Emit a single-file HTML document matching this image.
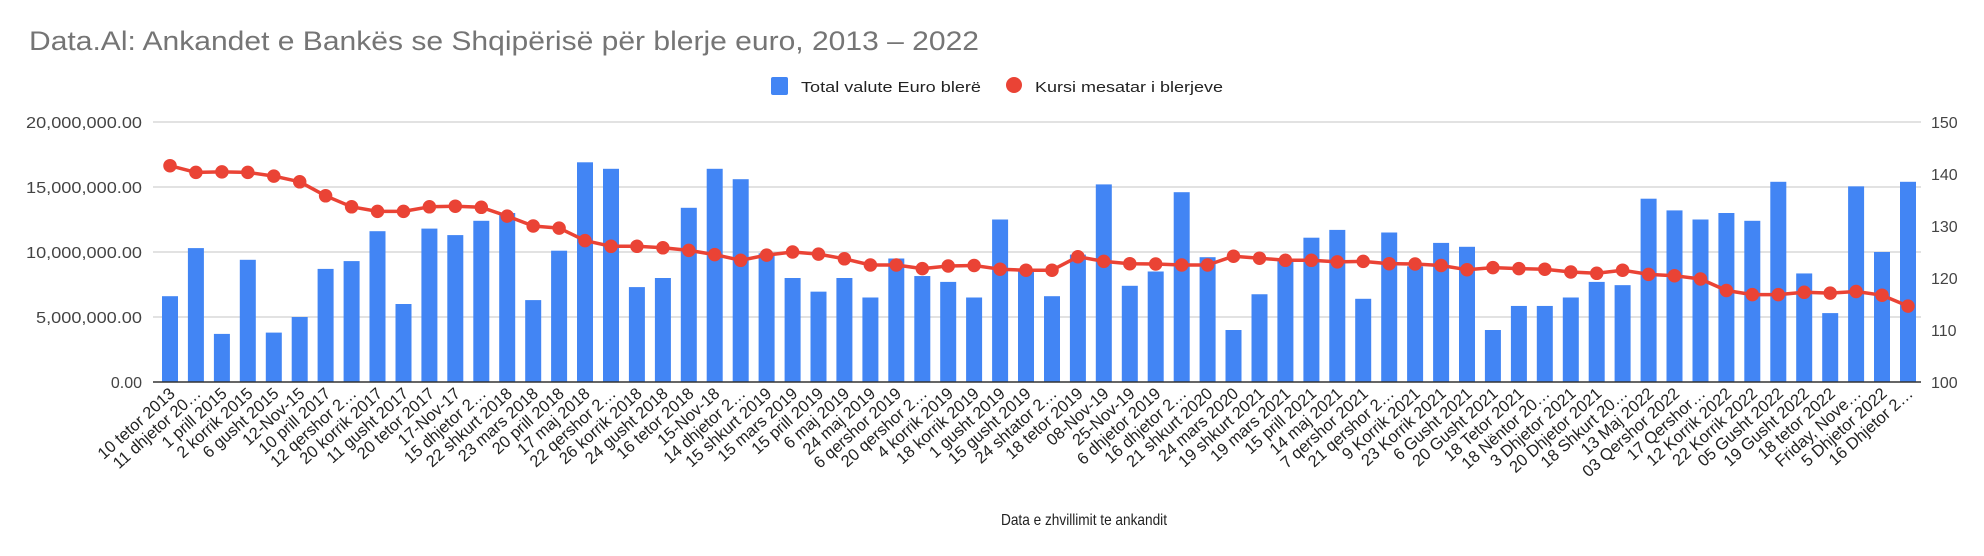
<!DOCTYPE html>
<html><head><meta charset="utf-8"><style>
html,body{margin:0;padding:0;background:#fff;}
svg{display:block;font-family:"Liberation Sans",Arial,sans-serif;}
</style></head><body>
<svg width="1984" height="556" viewBox="0 0 1984 556" xmlns="http://www.w3.org/2000/svg">
<text x="29" y="50" font-size="27" fill="#757575" textLength="950" lengthAdjust="spacingAndGlyphs">Data.Al: Ankandet e Bankës se Shqipërisë për blerje euro, 2013 – 2022</text>
<rect x="771" y="77" width="17" height="18" rx="2" fill="#4285f4"/>
<text x="801" y="92" font-size="15" fill="#222" textLength="180" lengthAdjust="spacingAndGlyphs">Total valute Euro blerë</text>
<circle cx="1014" cy="85" r="8" fill="#ea4335"/>
<text x="1035" y="92" font-size="15" fill="#222" textLength="188" lengthAdjust="spacingAndGlyphs">Kursi mesatar i blerjeve</text>
<g stroke="#d0d0d0" stroke-width="1.3">
<line x1="153" y1="122" x2="1921" y2="122"/><line x1="153" y1="187" x2="1921" y2="187"/><line x1="153" y1="252" x2="1921" y2="252"/><line x1="153" y1="317" x2="1921" y2="317"/>
</g>
<g font-size="16" fill="#444" text-anchor="end">
<text x="142" y="128" textLength="116" lengthAdjust="spacingAndGlyphs">20,000,000.00</text><text x="142" y="193" textLength="116" lengthAdjust="spacingAndGlyphs">15,000,000.00</text><text x="142" y="258" textLength="116" lengthAdjust="spacingAndGlyphs">10,000,000.00</text><text x="142" y="323" textLength="106" lengthAdjust="spacingAndGlyphs">5,000,000.00</text><text x="142" y="388">0.00</text>
</g>
<g font-size="16" fill="#444">
<text x="1931" y="128">150</text><text x="1931" y="180">140</text><text x="1931" y="232">130</text><text x="1931" y="284">120</text><text x="1931" y="336">110</text><text x="1931" y="388">100</text>
</g>
<g transform="translate(0,382) scale(1,-13)" fill="#4285f4">
<rect x="162" y="0" width="16" height="6.6"/><rect x="187.9" y="0" width="16" height="10.3"/><rect x="213.9" y="0" width="16" height="3.7"/><rect x="239.8" y="0" width="16" height="9.4"/><rect x="265.8" y="0" width="16" height="3.8"/><rect x="291.7" y="0" width="16" height="5.0"/><rect x="317.6" y="0" width="16" height="8.7"/><rect x="343.6" y="0" width="16" height="9.3"/><rect x="369.5" y="0" width="16" height="11.6"/><rect x="395.5" y="0" width="16" height="6.0"/><rect x="421.4" y="0" width="16" height="11.8"/><rect x="447.3" y="0" width="16" height="11.3"/><rect x="473.3" y="0" width="16" height="12.4"/><rect x="499.2" y="0" width="16" height="13.0"/><rect x="525.2" y="0" width="16" height="6.3"/><rect x="551.1" y="0" width="16" height="10.1"/><rect x="577" y="0" width="16" height="16.9"/><rect x="603" y="0" width="16" height="16.4"/><rect x="628.9" y="0" width="16" height="7.3"/><rect x="654.9" y="0" width="16" height="8.0"/><rect x="680.8" y="0" width="16" height="13.4"/><rect x="706.7" y="0" width="16" height="16.4"/><rect x="732.7" y="0" width="16" height="15.6"/><rect x="758.6" y="0" width="16" height="9.9"/><rect x="784.6" y="0" width="16" height="8.0"/><rect x="810.5" y="0" width="16" height="6.95"/><rect x="836.4" y="0" width="16" height="8.0"/><rect x="862.4" y="0" width="16" height="6.5"/><rect x="888.3" y="0" width="16" height="9.5"/><rect x="914.3" y="0" width="16" height="8.15"/><rect x="940.2" y="0" width="16" height="7.7"/><rect x="966.1" y="0" width="16" height="6.5"/><rect x="992.1" y="0" width="16" height="12.5"/><rect x="1018" y="0" width="16" height="8.6"/><rect x="1044" y="0" width="16" height="6.6"/><rect x="1069.9" y="0" width="16" height="9.8"/><rect x="1095.8" y="0" width="16" height="15.2"/><rect x="1121.8" y="0" width="16" height="7.4"/><rect x="1147.7" y="0" width="16" height="8.5"/><rect x="1173.7" y="0" width="16" height="14.6"/><rect x="1199.6" y="0" width="16" height="9.6"/><rect x="1225.5" y="0" width="16" height="4.0"/><rect x="1251.5" y="0" width="16" height="6.75"/><rect x="1277.4" y="0" width="16" height="9.4"/><rect x="1303.4" y="0" width="16" height="11.1"/><rect x="1329.3" y="0" width="16" height="11.7"/><rect x="1355.2" y="0" width="16" height="6.4"/><rect x="1381.2" y="0" width="16" height="11.5"/><rect x="1407.1" y="0" width="16" height="8.9"/><rect x="1433.1" y="0" width="16" height="10.7"/><rect x="1459" y="0" width="16" height="10.4"/><rect x="1484.9" y="0" width="16" height="4.0"/><rect x="1510.9" y="0" width="16" height="5.85"/><rect x="1536.8" y="0" width="16" height="5.85"/><rect x="1562.8" y="0" width="16" height="6.5"/><rect x="1588.7" y="0" width="16" height="7.7"/><rect x="1614.6" y="0" width="16" height="7.45"/><rect x="1640.6" y="0" width="16" height="14.1"/><rect x="1666.5" y="0" width="16" height="13.2"/><rect x="1692.5" y="0" width="16" height="12.5"/><rect x="1718.4" y="0" width="16" height="13.0"/><rect x="1744.3" y="0" width="16" height="12.4"/><rect x="1770.3" y="0" width="16" height="15.4"/><rect x="1796.2" y="0" width="16" height="8.35"/><rect x="1822.2" y="0" width="16" height="5.3"/><rect x="1848.1" y="0" width="16" height="15.05"/><rect x="1874" y="0" width="16" height="10.0"/><rect x="1900" y="0" width="16" height="15.4"/>
</g>
<line x1="153" y1="382" x2="1921" y2="382" stroke="#333" stroke-width="1.5"/>
<polyline fill="none" stroke="#ea4335" stroke-width="3.5" stroke-linejoin="round" points="170,165.7 195.9,172.4 221.9,171.9 247.8,172.4 273.8,176.1 299.7,181.8 325.6,195.8 351.6,206.8 377.5,211.4 403.5,211.4 429.4,206.8 455.3,206.2 481.3,207.3 507.2,216.1 533.2,226 559.1,228.1 585,240.6 611,246.3 636.9,246.3 662.9,247.8 688.8,250.4 714.7,254.6 740.7,260.3 766.6,255.1 792.6,252 818.5,254.1 844.4,258.8 870.4,265 896.3,265 922.3,268.6 948.2,266 974.1,265.5 1000.1,269.2 1026,270.2 1052,270.2 1077.9,256.7 1103.8,261.4 1129.8,263.7 1155.7,264 1181.7,265 1207.6,265 1233.5,256.2 1259.5,258.2 1285.4,260.3 1311.4,260.3 1337.3,261.9 1363.2,261.4 1389.2,263.7 1415.1,264 1441.1,265.5 1467,269.7 1492.9,267.6 1518.9,268.6 1544.8,269.2 1570.8,272 1596.7,273.3 1622.6,270.2 1648.6,274.4 1674.5,275.7 1700.5,279 1726.4,290.5 1752.3,294.6 1778.3,294.6 1804.2,292.3 1830.2,293.1 1856.1,291.5 1882,295.2 1908,306.1"/>
<path fill="none" stroke="#ea4335" stroke-width="13.5" stroke-linecap="round" d="M170 165.7h0M195.9 172.4h0M221.9 171.9h0M247.8 172.4h0M273.8 176.1h0M299.7 181.8h0M325.6 195.8h0M351.6 206.8h0M377.5 211.4h0M403.5 211.4h0M429.4 206.8h0M455.3 206.2h0M481.3 207.3h0M507.2 216.1h0M533.2 226h0M559.1 228.1h0M585 240.6h0M611 246.3h0M636.9 246.3h0M662.9 247.8h0M688.8 250.4h0M714.7 254.6h0M740.7 260.3h0M766.6 255.1h0M792.6 252h0M818.5 254.1h0M844.4 258.8h0M870.4 265h0M896.3 265h0M922.3 268.6h0M948.2 266h0M974.1 265.5h0M1000.1 269.2h0M1026 270.2h0M1052 270.2h0M1077.9 256.7h0M1103.8 261.4h0M1129.8 263.7h0M1155.7 264h0M1181.7 265h0M1207.6 265h0M1233.5 256.2h0M1259.5 258.2h0M1285.4 260.3h0M1311.4 260.3h0M1337.3 261.9h0M1363.2 261.4h0M1389.2 263.7h0M1415.1 264h0M1441.1 265.5h0M1467 269.7h0M1492.9 267.6h0M1518.9 268.6h0M1544.8 269.2h0M1570.8 272h0M1596.7 273.3h0M1622.6 270.2h0M1648.6 274.4h0M1674.5 275.7h0M1700.5 279h0M1726.4 290.5h0M1752.3 294.6h0M1778.3 294.6h0M1804.2 292.3h0M1830.2 293.1h0M1856.1 291.5h0M1882 295.2h0M1908 306.1h0"/>
<g font-size="16.5" fill="#222" text-anchor="end">
<text transform="translate(176,395) rotate(-42)">10 tetor 2013</text>
<text transform="translate(201.9,395) rotate(-42)">11 dhjetor 20…</text>
<text transform="translate(227.9,395) rotate(-42)">1 prill 2015</text>
<text transform="translate(253.8,395) rotate(-42)">2 korrik 2015</text>
<text transform="translate(279.8,395) rotate(-42)">6 gusht 2015</text>
<text transform="translate(305.7,395) rotate(-42)">12-Nov-15</text>
<text transform="translate(331.6,395) rotate(-42)">10 prill 2017</text>
<text transform="translate(357.6,395) rotate(-42)">12 qershor 2…</text>
<text transform="translate(383.5,395) rotate(-42)">20 korrik 2017</text>
<text transform="translate(409.5,395) rotate(-42)">11 gusht 2017</text>
<text transform="translate(435.4,395) rotate(-42)">20 tetor 2017</text>
<text transform="translate(461.3,395) rotate(-42)">17-Nov-17</text>
<text transform="translate(487.3,395) rotate(-42)">15 dhjetor 2…</text>
<text transform="translate(513.2,395) rotate(-42)">22 shkurt 2018</text>
<text transform="translate(539.2,395) rotate(-42)">23 mars 2018</text>
<text transform="translate(565.1,395) rotate(-42)">20 prill 2018</text>
<text transform="translate(591,395) rotate(-42)">17 maj 2018</text>
<text transform="translate(617,395) rotate(-42)">22 qershor 2…</text>
<text transform="translate(642.9,395) rotate(-42)">26 korrik 2018</text>
<text transform="translate(668.9,395) rotate(-42)">24 gusht 2018</text>
<text transform="translate(694.8,395) rotate(-42)">16 tetor 2018</text>
<text transform="translate(720.7,395) rotate(-42)">15-Nov-18</text>
<text transform="translate(746.7,395) rotate(-42)">14 dhjetor 2…</text>
<text transform="translate(772.6,395) rotate(-42)">15 shkurt 2019</text>
<text transform="translate(798.6,395) rotate(-42)">15 mars 2019</text>
<text transform="translate(824.5,395) rotate(-42)">15 prill 2019</text>
<text transform="translate(850.4,395) rotate(-42)">6 maj 2019</text>
<text transform="translate(876.4,395) rotate(-42)">24 maj 2019</text>
<text transform="translate(902.3,395) rotate(-42)">6 qershor 2019</text>
<text transform="translate(928.3,395) rotate(-42)">20 qershor 2…</text>
<text transform="translate(954.2,395) rotate(-42)">4 korrik 2019</text>
<text transform="translate(980.1,395) rotate(-42)">18 korrik 2019</text>
<text transform="translate(1006.1,395) rotate(-42)">1 gusht 2019</text>
<text transform="translate(1032,395) rotate(-42)">15 gusht 2019</text>
<text transform="translate(1058,395) rotate(-42)">24 shtator 2…</text>
<text transform="translate(1083.9,395) rotate(-42)">18 tetor 2019</text>
<text transform="translate(1109.8,395) rotate(-42)">08-Nov-19</text>
<text transform="translate(1135.8,395) rotate(-42)">25-Nov-19</text>
<text transform="translate(1161.7,395) rotate(-42)">6 dhjetor 2019</text>
<text transform="translate(1187.7,395) rotate(-42)">16 dhjetor 2…</text>
<text transform="translate(1213.6,395) rotate(-42)">21 shkurt 2020</text>
<text transform="translate(1239.5,395) rotate(-42)">24 mars 2020</text>
<text transform="translate(1265.5,395) rotate(-42)">19 shkurt 2021</text>
<text transform="translate(1291.4,395) rotate(-42)">19 mars 2021</text>
<text transform="translate(1317.4,395) rotate(-42)">15 prill 2021</text>
<text transform="translate(1343.3,395) rotate(-42)">14 maj 2021</text>
<text transform="translate(1369.2,395) rotate(-42)">7 qershor 2021</text>
<text transform="translate(1395.2,395) rotate(-42)">21 qershor 2…</text>
<text transform="translate(1421.1,395) rotate(-42)">9 Korrik 2021</text>
<text transform="translate(1447.1,395) rotate(-42)">23 Korrik 2021</text>
<text transform="translate(1473,395) rotate(-42)">6 Gusht 2021</text>
<text transform="translate(1498.9,395) rotate(-42)">20 Gusht 2021</text>
<text transform="translate(1524.9,395) rotate(-42)">18 Tetor 2021</text>
<text transform="translate(1550.8,395) rotate(-42)">18 Nëntor 20…</text>
<text transform="translate(1576.8,395) rotate(-42)">3 Dhjetor 2021</text>
<text transform="translate(1602.7,395) rotate(-42)">20 Dhjetor 2021</text>
<text transform="translate(1628.6,395) rotate(-42)">18 Shkurt 20…</text>
<text transform="translate(1654.6,395) rotate(-42)">13 Maj 2022</text>
<text transform="translate(1680.5,395) rotate(-42)">03 Qershor 2022</text>
<text transform="translate(1706.5,395) rotate(-42)">17 Qershor…</text>
<text transform="translate(1732.4,395) rotate(-42)">12 Korrik 2022</text>
<text transform="translate(1758.3,395) rotate(-42)">22 Korrik 2022</text>
<text transform="translate(1784.3,395) rotate(-42)">05 Gusht 2022</text>
<text transform="translate(1810.2,395) rotate(-42)">19 Gusht 2022</text>
<text transform="translate(1836.2,395) rotate(-42)">18 tetor 2022</text>
<text transform="translate(1862.1,395) rotate(-42)">Friday, Nove…</text>
<text transform="translate(1888,395) rotate(-42)">5 Dhjetor 2022</text>
<text transform="translate(1914,395) rotate(-42)">16 Dhjetor 2…</text>
</g>
<text x="1084" y="525" font-size="16" fill="#222" text-anchor="middle" textLength="166" lengthAdjust="spacingAndGlyphs">Data e zhvillimit te ankandit</text>
</svg>
</body></html>
